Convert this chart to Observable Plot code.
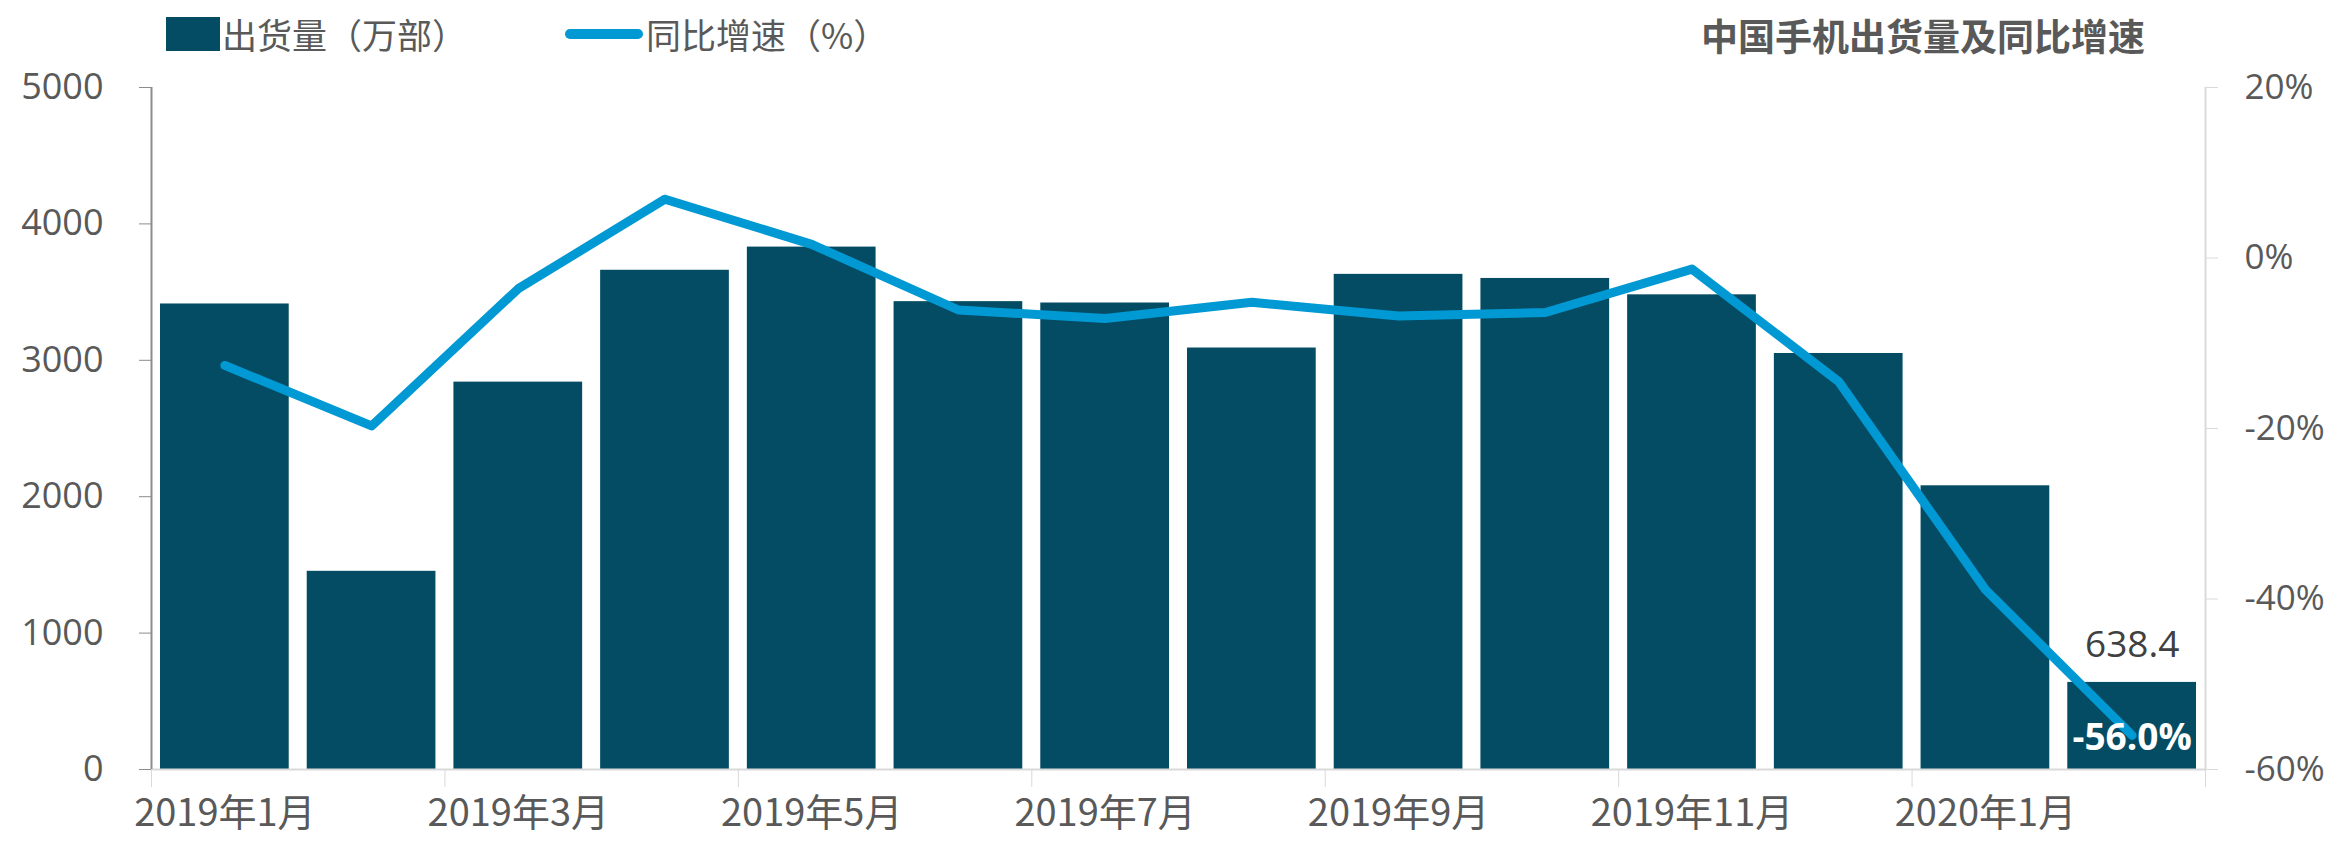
<!DOCTYPE html>
<html>
<head>
<meta charset="utf-8">
<script src="https://cdn.jsdelivr.net/npm/d3@7"></script>
<script src="https://cdn.jsdelivr.net/npm/@observablehq/plot@0.6"></script>
<style>
  html, body { margin: 0; padding: 0; background: #fff; }
  #wrap { position: relative; width: 2341px; height: 847px; overflow: hidden; font-family: "Noto Sans CJK SC", "Open Sans", sans-serif; }
  #wrap svg { position: absolute; left: 0; top: 0; }
  .legend { position: absolute; top: 8px; left: 166px; display: flex; align-items: center; font-size: 35px; color: #595959; white-space: nowrap; }
  .sw-bar { width: 54px; height: 34px; background: #034c63; margin-right: 2px; }
  .sw-line { width: 78px; height: 10px; border-radius: 5px; background: #0099d4; margin-left: 98px; margin-right: 3px; }
  .title { position: absolute; top: 8px; right: 196px; font-size: 37px; font-weight: bold; color: #595959; white-space: nowrap; }
</style>
</head>
<body>
<div id="wrap">
  <div class="legend"><span class="sw-bar"></span><span>出货量（万部）</span><span class="sw-line"></span><span>同比增速（%）</span></div>
  <div class="title">中国手机出货量及同比增速</div>
</div>
<script>
const months = ["2019年1月","2019年2月","2019年3月","2019年4月","2019年5月","2019年6月","2019年7月","2019年8月","2019年9月","2019年10月","2019年11月","2019年12月","2020年1月","2020年2月"];
const shipments = [3413, 1453, 2840, 3660, 3830, 3430, 3420, 3090, 3630, 3600, 3480, 3050, 2080, 638.4];
const growth = [-12.6, -19.7, -3.6, 6.9, 1.6, -6.1, -7.1, -5.2, -6.8, -6.4, -1.3, -14.5, -38.9, -56.0];
const leftTicks = [0, 1000, 2000, 3000, 4000, 5000];
const rateTicks = [20, 0, -20, -40, -60];

const leftMax = 5000, rateMin = -60, rateMax = 20;
const toLeft = r => (r - rateMin) / (rateMax - rateMin) * leftMax;
const fromLeft = v => Math.round(v / leftMax * (rateMax - rateMin) + rateMin);

const data = months.map((m, i) => ({i, m, v: shipments[i], g: growth[i]}));
const last = data[data.length - 1];
const n = months.length;
const edgeTicks = d3.range(0, n + 1, 2);
const labelTicks = d3.range(0, n, 2).map(i => i + 0.5);

const chart = Plot.plot({
  width: 2341,
  height: 847,
  marginLeft: 151,
  marginRight: 136,
  marginTop: 87,
  marginBottom: 78,
  style: {fontFamily: "'Open Sans', 'Noto Sans CJK SC', sans-serif", background: "transparent"},
  x: {type: "linear", domain: [0, n], axis: null},
  y: {domain: [0, leftMax], axis: null},
  marks: [
    Plot.rectY(data, {x1: d => d.i, x2: d => d.i + 1, y1: 0, y2: "v", fill: "#034c63", insetLeft: 9, insetRight: 9}),
    Plot.ruleY([0], {stroke: "#d9d9d9", strokeWidth: 2}),
    Plot.ruleX([0], {y1: 0, y2: leftMax, stroke: "#8c8c8c", strokeWidth: 2}),
    Plot.ruleX([n], {y1: 0, y2: leftMax, stroke: "#d9d9d9", strokeWidth: 2}),
    Plot.axisY({anchor: "left", label: null, ticks: leftTicks, tickSize: 12, tickPadding: 36, fontSize: 36, fill: "#595959", stroke: "#8c8c8c", tickFormat: d => String(d)}),
    Plot.axisY({anchor: "right", label: null, ticks: rateTicks.map(toLeft), tickSize: 12, tickPadding: 27, fontSize: 35, fill: "#595959", stroke: "#d9d9d9", tickFormat: d => fromLeft(d) + "%"}),
    Plot.axisX({anchor: "bottom", label: null, ticks: edgeTicks, tickSize: 18, tickFormat: () => "", stroke: "#d9d9d9"}),
    Plot.axisX({anchor: "bottom", label: null, ticks: labelTicks, tickSize: 0, tickPadding: 30, fontSize: 38, fill: "#595959", fontFamily: "'Noto Sans CJK SC', sans-serif", tickFormat: d => months[d - 0.5]}),
    Plot.line(data, {x: d => d.i + 0.5, y: d => toLeft(d.g), stroke: "#0099d4", strokeWidth: 9, strokeLinejoin: "round", strokeLinecap: "round"}),
    Plot.text([last], {x: d => d.i + 0.5, y: "v", text: d => String(d.v), dy: -37, fontSize: 37, fill: "#404040"}),
    Plot.text([last], {x: d => d.i + 0.5, y: d => toLeft(d.g), text: d => d.g.toFixed(1) + "%", dy: 3, fontSize: 37, fontWeight: "bold", fill: "#ffffff"})
  ]
});
document.getElementById("wrap").prepend(chart);
</script>
</body>
</html>
